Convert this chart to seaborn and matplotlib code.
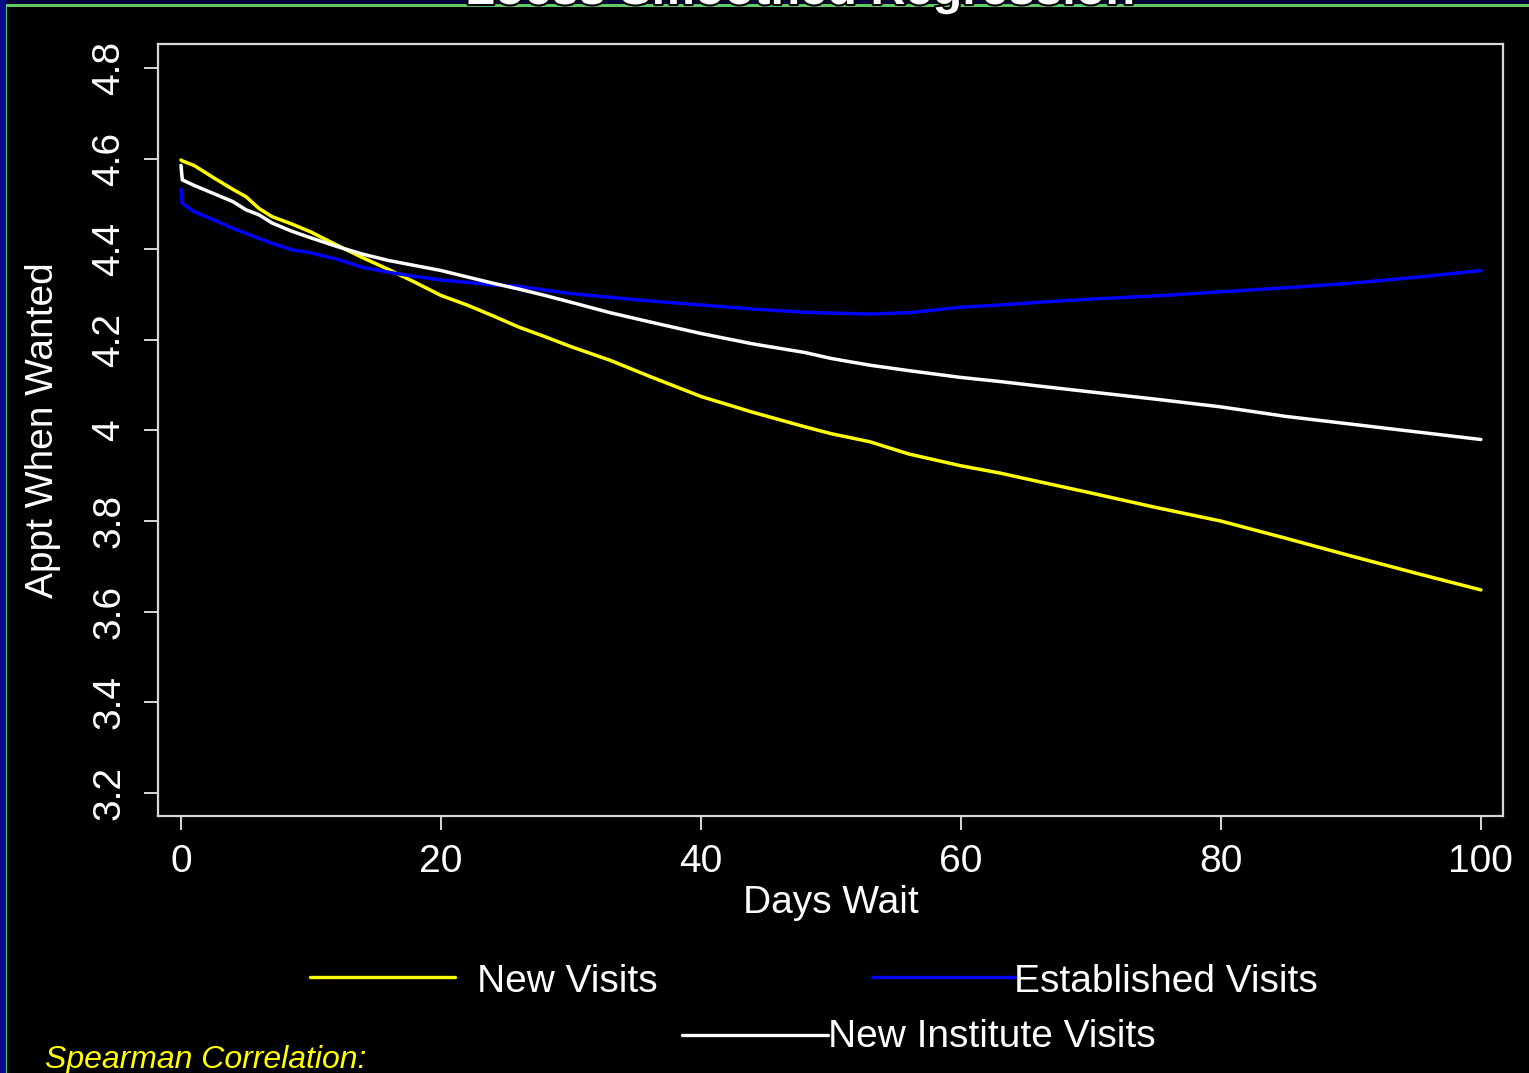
import matplotlib
matplotlib.use("Agg")
import matplotlib.pyplot as plt
from matplotlib.lines import Line2D
from matplotlib.patches import Rectangle
import matplotlib.patheffects as pe
import numpy as np
import pandas as pd
import seaborn as sns

# Smoothed satisfaction score ("Appt When Wanted") against days waited
days = [0, 0.1, 1, 2.5, 4, 5, 6, 7, 8.5, 10, 12, 14, 16, 18, 20, 22, 24, 26, 28,
        30, 33, 36, 40, 44, 48, 50, 53, 56, 60, 63, 66, 70, 75, 80, 85, 90, 95, 100]

new_visits = [4.597, 4.595, 4.585, 4.558, 4.532, 4.516, 4.490, 4.472, 4.456, 4.438,
              4.409, 4.381, 4.355, 4.327, 4.298, 4.277, 4.253, 4.228, 4.207, 4.185,
              4.155, 4.120, 4.075, 4.040, 4.008, 3.993, 3.975, 3.948, 3.922, 3.906,
              3.887, 3.862, 3.830, 3.800, 3.762, 3.723, 3.685, 3.648]

established_visits = [4.532, 4.501, 4.483, 4.465, 4.446, 4.435, 4.424, 4.413, 4.399, 4.392,
                      4.378, 4.360, 4.349, 4.340, 4.332, 4.327, 4.321, 4.318, 4.310, 4.302,
                      4.294, 4.286, 4.277, 4.268, 4.261, 4.259, 4.257, 4.260, 4.272, 4.277,
                      4.283, 4.290, 4.297, 4.306, 4.315, 4.325, 4.338, 4.353]

new_institute_visits = [4.585, 4.553, 4.541, 4.523, 4.505, 4.487, 4.476, 4.458, 4.440, 4.425,
                        4.406, 4.389, 4.375, 4.364, 4.353, 4.339, 4.325, 4.312, 4.298, 4.283,
                        4.260, 4.240, 4.214, 4.191, 4.172, 4.159, 4.144, 4.132, 4.117, 4.108,
                        4.098, 4.085, 4.069, 4.052, 4.031, 4.014, 3.997, 3.980]

series_names = ["New Visits", "Established Visits", "New Institute Visits"]
series_colors = ["#FFFF00", "#0000FF", "#FFFFFF"]

x_ticks = [0, 20, 40, 60, 80, 100]
y_ticks = [3.2, 3.4, 3.6, 3.8, 4.0, 4.2, 4.4, 4.6, 4.8]
y_tick_labels = ["3.2", "3.4", "3.6", "3.8", "4", "4.2", "4.4", "4.6", "4.8"]

df = pd.concat([
    pd.DataFrame({"days": days, "score": vals, "series": name})
    for name, vals in zip(series_names, [new_visits, established_visits, new_institute_visits])
], ignore_index=True)

sns.set_theme(style="dark")
plt.rcParams["font.family"] = ["Liberation Sans", "DejaVu Sans"]
plt.rcParams["axes.facecolor"] = "black"
plt.rcParams["figure.facecolor"] = "black"

W, H = 1529, 1073
fig = plt.figure(figsize=(W / 100, H / 100), dpi=100)
fig.patch.set_facecolor("black")


def fx(px):
    return px / W


def fy(py):
    return 1 - py / H


ax = fig.add_axes([fx(158), fy(816), fx(1503) - fx(158), fy(44) - fy(816)])
ax.set_facecolor("black")

sns.lineplot(data=df, x="days", y="score", hue="series", hue_order=series_names,
             palette=dict(zip(series_names, series_colors)), linewidth=2.5,
             legend=False, errorbar=None, estimator=None, ax=ax)

ax.set_xlim(-1.77, 101.7)
ax.set_ylim(3.149, 4.853)
ax.grid(False)
for s in ax.spines.values():
    s.set_color("#d8d8d8")
    s.set_linewidth(1.6)
    s.set_visible(True)

ax.set_xticks(x_ticks)
ax.set_xticklabels([str(t) for t in x_ticks])
ax.set_yticks(y_ticks)
ax.set_yticklabels(y_tick_labels, rotation=90, va="center")
ax.tick_params(axis="both", colors="#d8d8d8", labelcolor="white", labelsize=28,
               length=10, width=1.4, direction="out", bottom=True, left=True)
ax.tick_params(axis="x", pad=10)
ax.tick_params(axis="y", pad=12)

ax.set_xlabel("Days Wait", color="white", fontsize=28, labelpad=4)
ax.set_ylabel("Appt When Wanted", color="white", fontsize=28, labelpad=22)

# Slide frame: dark navy margin with a green rule along the top and left
fig.add_artist(Rectangle((0, fy(4.5)), 1, fy(0) - fy(4.5), transform=fig.transFigure,
                         facecolor="#000036", edgecolor="none", zorder=0.5))
fig.add_artist(Rectangle((0, 0), fx(5.5), 1, transform=fig.transFigure,
                         facecolor="#08088c", edgecolor="none", zorder=0.5))
fig.add_artist(Rectangle((fx(5.5), fy(7)), 1, fy(4.5) - fy(7), transform=fig.transFigure,
                         facecolor="#5fcc63", edgecolor="none", zorder=0.6))
fig.add_artist(Rectangle((fx(5.5), 0), fx(7.5) - fx(5.5), fy(4.5), transform=fig.transFigure,
                         facecolor="#5fcc63", edgecolor="none", zorder=0.6))

# Slide heading, running off the top edge
fig.text(fx(800), fy(4), "Loess Smoothed Regression", color="white", fontsize=35,
         fontweight="bold", ha="center", va="baseline", zorder=1,
         path_effects=[pe.withStroke(linewidth=3, foreground="black")])

# Legend rows below the axes
legend_rows = [
    (series_colors[0], 310, 455, 977, series_names[0], 477, 982),
    (series_colors[1], 872, 1015, 977, series_names[1], 1014, 982),
    (series_colors[2], 682, 828, 1035, series_names[2], 828, 1037),
]
for color, x0, x1, yl, label, xt, yt in legend_rows:
    fig.add_artist(Line2D([fx(x0), fx(x1)], [fy(yl), fy(yl)], transform=fig.transFigure,
                          color=color, linewidth=2.4))
    fig.text(fx(xt), fy(yt), label, color="white", fontsize=28, ha="left", va="center")

fig.text(fx(45), fy(1060), "Spearman Correlation:", color="#FFFF00", fontsize=23,
         fontstyle="italic", ha="left", va="center")

fig.savefig("out.png", dpi=100, facecolor="black")
